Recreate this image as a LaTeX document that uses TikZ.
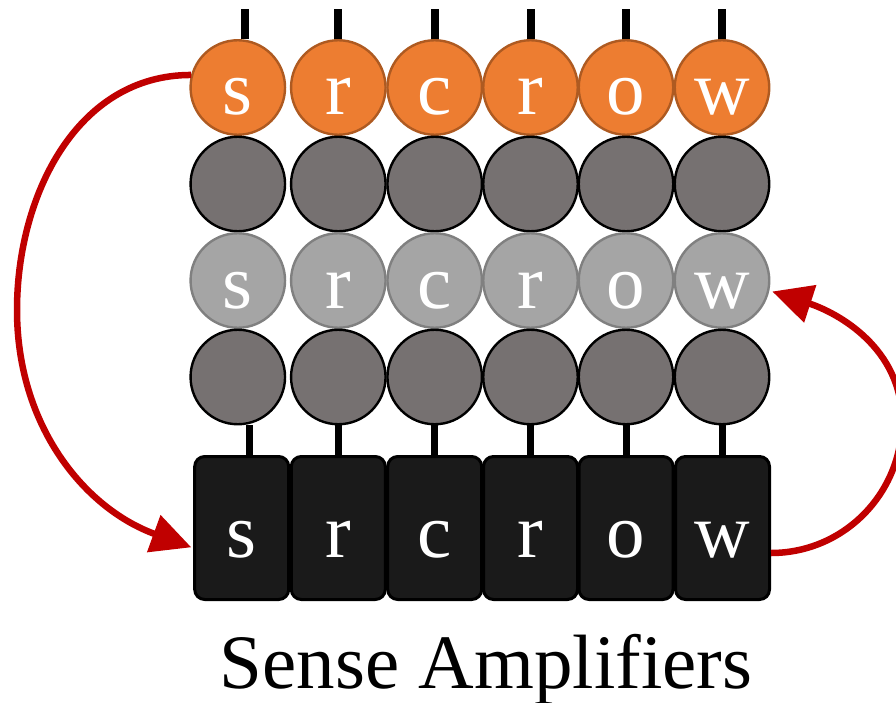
\documentclass[tikz,border=0pt]{standalone}
\usepackage{fontspec}
\setmainfont{Liberation Serif}
\usetikzlibrary{arrows.meta}
\definecolor{orangeF}{HTML}{ED7D31}
\definecolor{orangeD}{HTML}{AE5A21}
\definecolor{darkG}{HTML}{767171}
\definecolor{lightG}{HTML}{A5A5A5}
\definecolor{lightGD}{HTML}{808080}
\definecolor{boxF}{HTML}{1A1A1A}
\definecolor{arrowR}{HTML}{C00000}
\begin{document}
\begin{tikzpicture}[x=1pt,y=1pt,
  cell/.style={circle, minimum size=94.5pt, inner sep=0pt, line width=2.4pt,
    text=white, font=\fontsize{77}{80}\selectfont, text height=55pt, text depth=0pt},
  hot/.style={cell, fill=orangeF, draw=orangeD},
  dark/.style={cell, fill=darkG, draw=black},
  light/.style={cell, fill=lightG, draw=lightGD},
  amp/.style={rectangle, rounded corners=10pt, minimum width=94pt, minimum height=143pt,
    inner sep=0pt, line width=3pt, fill=boxF, draw=black, text=white,
    font=\fontsize{77}{80}\selectfont, text height=58pt, text depth=0pt},
  stemline/.style={line width=8pt, black},
  move/.style={line width=6.5pt, arrowR, -{Triangle[length=40pt,width=38pt]}}
]
\useasboundingbox (0,0) rectangle (896,-703);

% row 1 (orange)
\node[hot] (o1) at (237.8,-87.5) {s};
\node[hot] (o2) at (338.3,-87.5) {r};
\node[hot] (o3) at (434.7,-87.5) {c};
\node[hot] (o4) at (530.5,-87.5) {r};
\node[hot] (o5) at (626,-87.5) {o};
\node[hot] (o6) at (722,-87.5) {w};
% row 2 (dark)
\node[dark] (d1) at (237.8,-184) {};
\node[dark] (d2) at (338.3,-184) {};
\node[dark] (d3) at (434.7,-184) {};
\node[dark] (d4) at (530.5,-184) {};
\node[dark] (d5) at (626,-184) {};
\node[dark] (d6) at (722,-184) {};
% row 3 (light)
\node[light] (l1) at (237.8,-280.5) {s};
\node[light] (l2) at (338.3,-280.5) {r};
\node[light] (l3) at (434.7,-280.5) {c};
\node[light] (l4) at (530.5,-280.5) {r};
\node[light] (l5) at (626,-280.5) {o};
\node[light] (l6) at (722,-280.5) {w};
% row 4 (dark)
\node[dark] (e1) at (237.8,-377) {};
\node[dark] (e2) at (338.3,-377) {};
\node[dark] (e3) at (434.7,-377) {};
\node[dark] (e4) at (530.5,-377) {};
\node[dark] (e5) at (626,-377) {};
\node[dark] (e6) at (722,-377) {};
% sense amplifiers
\node[amp] (b1) at (241.7,-528) {s};
\node[amp] (b2) at (338.3,-528) {r};
\node[amp] (b3) at (434.7,-528) {c};
\node[amp] (b4) at (530.5,-528) {r};
\node[amp] (b5) at (626,-528) {o};
\node[amp] (b6) at (722.5,-528) {w};

\node[anchor=base, font=\fontsize{77}{80}\selectfont, inner sep=0pt] (title) at (486,-688) {Sense Amplifiers};

% top stems
\draw[stemline] ([xshift=7pt]o1.north) -- ++(0,30);
\foreach \i in {2,...,6} {\draw[stemline] (o\i.north) -- ++(0,30);}
% bottom stems
\draw[stemline, line width=7pt] ([xshift=7.3pt]b1.north) -- ([xshift=7.3pt]b1.north |- e1.south);
\foreach \i in {2,...,6} {\draw[stemline, line width=7pt] (b\i.north) -- (b\i.north |- e\i.south);}

% arrows
\coordinate (L) at (17,-310);
\coordinate (R) at (902,-421);
\draw[move, shorten >=2pt] (o1.165) to[out=180,in=90] (L) to[out=-90,in=160] ([yshift=-20pt]b1.west);
\draw[move, shorten >=3pt] ([yshift=-25pt]b6.east) to[out=0,in=-90] (R) to[out=90,in=-18] (l6.-12);
\end{tikzpicture}
\end{document}
